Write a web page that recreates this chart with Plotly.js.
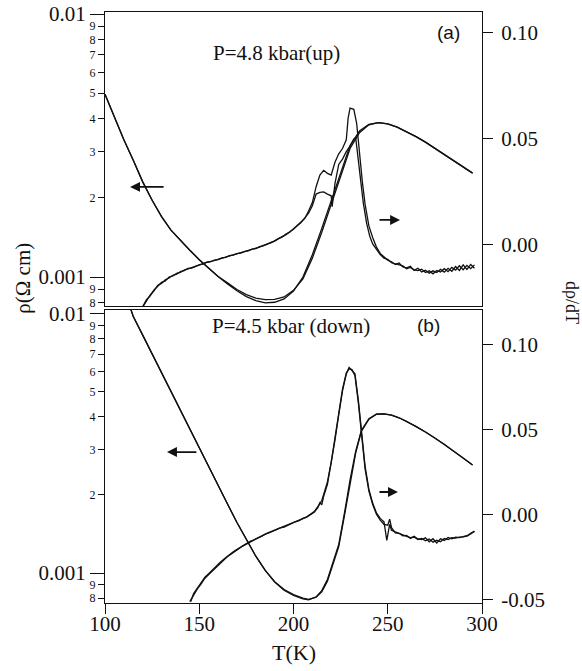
<!DOCTYPE html>
<html>
<head>
<meta charset="utf-8">
<script src="https://cdn.plot.ly/plotly-3.0.1.min.js"></script>
<style>html,body{margin:0;padding:0;background:#fff;}#chart{width:582px;height:671px;}</style>
</head>
<body>
<div id="chart"></div>
<script>
// ---------- Panel (a): P = 4.8 kbar (up) ----------
var tRhoA = [100,105,110,115,120,125,130,135,140,145,150,155,160,165,170,175,180,185,190,195,200,205,210,215,220,225,230,235,240,245,250,255,260,265,270,275,280,285,290,295];
var rhoA1 = [0.004955,0.004027,0.003327,0.002780,0.002301,0.001959,0.001698,0.001507,0.001374,0.001265,0.001164,0.001079,0.001005,0.000942,0.000887,0.000843,0.000813,0.000798,0.000802,0.000826,0.000885,0.001000,0.001216,0.001531,0.001950,0.002512,0.003162,0.003589,0.003802,0.003864,0.003819,0.003715,0.003573,0.003420,0.003258,0.003090,0.002917,0.002767,0.002618,0.002483];
var rhoA2 = [0.004955,0.004027,0.003327,0.002780,0.002301,0.001959,0.001698,0.001507,0.001374,0.001265,0.001164,0.001079,0.001005,0.000950,0.000897,0.000858,0.000832,0.000820,0.000822,0.000840,0.000890,0.000985,0.001180,0.001480,0.001880,0.002420,0.003080,0.003540,0.003790,0.003864,0.003819,0.003715,0.003573,0.003420,0.003258,0.003090,0.002917,0.002767,0.002618,0.002483];

var tDerA1 = [120,122,124,126,128,130,132,134,136,138,140,142,144,146,148,150,152,154,156,158,160,162,164,166,168,170,172,174,176,178,180,182,184,186,188,190,192,194,196,198,200,202,204,206,208,210,212,214,216,218,220,222,224,226,228,229,230,232,233.5,235,236.5,238,240,242,244,246,248,250,252,254,256,258,260,262,264,266,268,270,272,274,276,278,280,282,284,286,288,290,292,294,296];
var derA1 = [-0.0291,-0.0258,-0.0240,-0.0212,-0.0195,-0.0176,-0.0170,-0.0151,-0.0146,-0.0134,-0.0129,-0.0118,-0.0113,-0.0107,-0.0099,-0.0096,-0.0087,-0.0082,-0.0079,-0.0071,-0.0069,-0.0061,-0.0058,-0.0050,-0.0048,-0.0041,-0.0039,-0.0031,-0.0028,-0.0020,-0.0017,-0.0008,-0.0004,0.0005,0.0010,0.0020,0.0026,0.0040,0.0049,0.0062,0.0074,0.0092,0.0108,0.0125,0.0160,0.0200,0.0275,0.0330,0.0352,0.0338,0.0330,0.0390,0.0430,0.0455,0.0496,0.0600,0.0646,0.0640,0.0574,0.0420,0.0300,0.0190,0.0090,0.0035,-0.0010,-0.0040,-0.0055,-0.0072,-0.0080,-0.0092,-0.0085,-0.0104,-0.0108,-0.0100,-0.0120,-0.0110,-0.0127,-0.0119,-0.0133,-0.0122,-0.0130,-0.0115,-0.0128,-0.0110,-0.0124,-0.0102,-0.0120,-0.0094,-0.0115,-0.0092,-0.0110];

var tDerA2 = [120,122,124,126,128,130,132,134,136,138,140,142,144,146,148,150,152,154,156,158,160,162,164,166,168,170,172,174,176,178,180,182,184,186,188,190,192,194,196,198,200,202,204,206,208,210,212,214,216,218,220,220.5,222,224,226,228,230,232,233,234,235.5,237,238.8,240.5,242,244,246,248,250,252,254,256,258,260,262,264,266,268,270,272,274,276,278,280,282,284,286,288,290,292,294,296];
var derA2 = [-0.0293,-0.0262,-0.0236,-0.0216,-0.0190,-0.0181,-0.0164,-0.0156,-0.0143,-0.0138,-0.0126,-0.0121,-0.0111,-0.0109,-0.0100,-0.0094,-0.0089,-0.0081,-0.0078,-0.0073,-0.0067,-0.0063,-0.0056,-0.0052,-0.0046,-0.0043,-0.0037,-0.0033,-0.0026,-0.0022,-0.0015,-0.0010,-0.0002,0.0003,0.0012,0.0018,0.0030,0.0038,0.0051,0.0060,0.0077,0.0090,0.0106,0.0128,0.0150,0.0185,0.0240,0.0248,0.0250,0.0240,0.0232,0.0181,0.0290,0.0380,0.0405,0.0440,0.0466,0.0500,0.0505,0.0430,0.0300,0.0200,0.0102,0.0040,0.0005,-0.0020,-0.0045,-0.0062,-0.0068,-0.0084,-0.0089,-0.0097,-0.0099,-0.0112,-0.0106,-0.0118,-0.0121,-0.0114,-0.0130,-0.0122,-0.0136,-0.0120,-0.0128,-0.0112,-0.0126,-0.0106,-0.0119,-0.0098,-0.0117,-0.0096,-0.0112,-0.0094];

// ---------- Panel (b): P = 4.5 kbar (down) ----------
var tRhoB = [112,115,120,125,130,135,140,145,150,155,160,165,170,175,180,185,190,195,200,205,208,212,215,218,221,224,227,230,233,236,240,244,248,252,256,260,265,270,275,280,285,290,295];
var rhoB1 = [0.011298,0.009772,0.008279,0.006998,0.005929,0.005012,0.004246,0.003589,0.003041,0.002570,0.002178,0.001845,0.001567,0.001343,0.001161,0.001023,0.000923,0.000859,0.000820,0.000794,0.000787,0.000809,0.000855,0.000944,0.001096,0.001288,0.001698,0.002286,0.002951,0.003548,0.003936,0.004102,0.004111,0.004064,0.003972,0.003846,0.003681,0.003499,0.003319,0.003141,0.002951,0.002780,0.002612];
var rhoB2 = [0.011298,0.009772,0.008279,0.006998,0.005929,0.005012,0.004246,0.003589,0.003041,0.002570,0.002178,0.001845,0.001567,0.001343,0.001161,0.001023,0.000926,0.000863,0.000826,0.000800,0.000791,0.000806,0.000846,0.000930,0.001075,0.001265,0.001660,0.002240,0.002910,0.003520,0.003925,0.004098,0.004111,0.004064,0.003972,0.003846,0.003681,0.003499,0.003319,0.003141,0.002951,0.002780,0.002612];

var tDerB1 = [145,147,149,151,153,155,157,159,161,163,165,167,169,171,173,175,177,179,181,183,185,187,189,191,193,195,197,199,201,203,205,207,209,211,213,214,215,216,218,220,222,224,226,228,229.5,231,232.6,234.4,236,238,240,242,244,246,248,249.5,251,252,254,256,258,260,262,264,266,268,270,272,274,276,278,280,282,284,286,288,290,292,294,296];
var derB1 = [-0.0510,-0.0470,-0.0435,-0.0405,-0.0372,-0.0350,-0.0328,-0.0306,-0.0285,-0.0262,-0.0244,-0.0230,-0.0212,-0.0199,-0.0183,-0.0170,-0.0158,-0.0149,-0.0136,-0.0126,-0.0113,-0.0106,-0.0095,-0.0088,-0.0076,-0.0071,-0.0060,-0.0052,-0.0040,-0.0033,-0.0020,-0.0013,0.0000,0.0016,0.0045,0.0072,0.0060,0.0110,0.0180,0.0300,0.0440,0.0590,0.0730,0.0830,0.0868,0.0850,0.0830,0.0676,0.0490,0.0284,0.0150,0.0070,0.0012,-0.0020,-0.0040,-0.0150,-0.0055,-0.0090,-0.0100,-0.0110,-0.0118,-0.0126,-0.0133,-0.0130,-0.0144,-0.0138,-0.0152,-0.0141,-0.0160,-0.0148,-0.0158,-0.0138,-0.0145,-0.0134,-0.0136,-0.0130,-0.0129,-0.0125,-0.0112,-0.0097];

var tDerB2 = [145.5,147,149,151,153,155,157,159,161,163,165,167,169,171,173,175,177,179,181,183,185,187,189,191,193,195,197,199,201,203,205,207,209,211,213,214,215,216,218,220,222,224,226,228,229.5,231,232.6,234.4,236,238,240,242,244,246,248,250,251,252,254,256,258,260,262,264,266,268,270,272,274,276,278,280,282,284,286,288,290,292,294,296];
var derB2 = [-0.0510,-0.0462,-0.0430,-0.0398,-0.0366,-0.0346,-0.0322,-0.0302,-0.0280,-0.0260,-0.0241,-0.0226,-0.0210,-0.0196,-0.0181,-0.0168,-0.0155,-0.0146,-0.0134,-0.0123,-0.0112,-0.0103,-0.0094,-0.0085,-0.0077,-0.0068,-0.0061,-0.0050,-0.0042,-0.0031,-0.0022,-0.0011,0.0003,0.0020,0.0050,0.0065,0.0085,0.0120,0.0195,0.0310,0.0455,0.0600,0.0740,0.0835,0.0860,0.0855,0.0820,0.0660,0.0470,0.0270,0.0140,0.0062,0.0005,-0.0030,-0.0055,-0.0060,-0.0025,-0.0075,-0.0105,-0.0108,-0.0123,-0.0120,-0.0138,-0.0126,-0.0141,-0.0145,-0.0135,-0.0158,-0.0140,-0.0165,-0.0140,-0.0150,-0.0132,-0.0140,-0.0130,-0.0133,-0.0128,-0.0122,-0.0108,-0.0095];

// ---------- Ticks ----------
var majorVals = [0.001, 0.01];
var majorText = ['0.001', '0.01'];
var minorVals = [0.0008,0.0009,0.002,0.003,0.004,0.005,0.006,0.007,0.008,0.009];
var minorText = ['8','9','2','3','4','5','6','7','8','9'];
var rightValsA = [0, 0.05, 0.10];
var rightTextA = ['0.00', '0.05', '0.10'];
var rightValsB = [-0.05, 0, 0.05, 0.10];
var rightTextB = ['-0.05', '0.00', '0.05', '0.10'];
var xVals = [100,150,200,250,300];

var SERIF = 'Liberation Serif, Times New Roman, serif';
var SANS = 'Liberation Sans, Arial, sans-serif';
var ln = {color:'#111', width:1.3};

function tr(x, y, xa, ya) {
  return {x:x, y:y, xaxis:xa, yaxis:ya, type:'scatter', mode:'lines', line:ln, hoverinfo:'skip'};
}
function holder(xa, ya) {
  return {x:[], y:[], xaxis:xa, yaxis:ya, type:'scatter', mode:'lines', hoverinfo:'skip'};
}

var data = [
  tr(tRhoA, rhoA1, 'x2', 'y4'),
  tr(tRhoA, rhoA2, 'x2', 'y4'),
  tr(tDerA1, derA1, 'x2', 'y6'),
  tr(tDerA2, derA2, 'x2', 'y6'),
  tr(tRhoB, rhoB1, 'x', 'y'),
  tr(tRhoB, rhoB2, 'x', 'y'),
  tr(tDerB1, derB1, 'x', 'y3'),
  tr(tDerB2, derB2, 'x', 'y3'),
  holder('x', 'y2'),
  holder('x2', 'y5')
];

var axLine = {showline:true, linecolor:'#111', linewidth:1, showgrid:false, zeroline:false, ticks:'outside', tickcolor:'#111'};
function merge(a, b) { var o = {}; for (var k in a) o[k] = a[k]; for (var k2 in b) o[k2] = b[k2]; return o; }

var domB = [0, 0.4958];
var domA = [0.5025, 1];
var rangeB = [Math.log10(0.000766), -1.985];
var rangeA = [Math.log10(0.000776), -1.9924];
var bigTick = {size:21, family:SERIF, color:'#111'};
var smallTick = {size:12, family:SERIF, color:'#111'};

function note(text, x, y, size, fam, angle) {
  return {text:text, xref:'paper', yref:'paper', x:x, y:y, xanchor:'center', yanchor:'middle', textangle:angle || 0, showarrow:false, font:{size:size, family:fam, color:'#111'}};
}
function arrow(xr, yr, xHead, xTail, yv) {
  return {text:'', xref:xr, yref:yr, x:xHead, y:yv, axref:xr, ayref:yr, ax:xTail, ay:yv, showarrow:true, arrowhead:2, arrowsize:1.1, arrowwidth:1.8, arrowcolor:'#111', standoff:0};
}

var layout = {
  width:582, height:671,
  margin:{l:105, r:100, t:12, b:68},
  paper_bgcolor:'#fff', plot_bgcolor:'#fff',
  showlegend:false,
  font:{family:SERIF, color:'#111', size:19},
  xaxis: merge(axLine, {domain:[0,1], range:[100,300], anchor:'y', mirror:true, tickvals:xVals, ticklen:10, ticklabelstandoff:-8, tickfont:bigTick}),
  xaxis2: merge(axLine, {domain:[0,1], range:[100,300], anchor:'y4', mirror:true, ticks:'', showticklabels:false, matches:'x'}),
  yaxis: merge(axLine, {domain:domB, type:'log', range:rangeB, anchor:'x', side:'left', tickvals:majorVals, ticktext:majorText, ticklen:14, tickfont:bigTick}),
  yaxis2: merge(axLine, {type:'log', range:rangeB, anchor:'x', overlaying:'y', side:'left', showline:false, tickvals:minorVals, ticktext:minorText, ticklen:6, tickfont:smallTick}),
  yaxis3: merge(axLine, {type:'linear', range:[-0.0518, 0.1206], anchor:'x', overlaying:'y', side:'right', tickvals:rightValsB, ticktext:rightTextB, ticklen:10, ticklabelstandoff:4, tickfont:bigTick}),
  yaxis4: merge(axLine, {domain:domA, type:'log', range:rangeA, anchor:'x2', side:'left', tickvals:majorVals, ticktext:majorText, ticklen:14, tickfont:bigTick}),
  yaxis5: merge(axLine, {type:'log', range:rangeA, anchor:'x2', overlaying:'y4', side:'left', showline:false, tickvals:minorVals, ticktext:minorText, ticklen:6, tickfont:smallTick}),
  yaxis6: merge(axLine, {type:'linear', range:[-0.0288, 0.1099], anchor:'x2', overlaying:'y4', side:'right', tickvals:rightValsA, ticktext:rightTextA, ticklen:10, ticklabelstandoff:4, tickfont:bigTick}),
  annotations: [
    note('P=4.8 kbar(up)', 0.456, 0.9307, 21, SERIF),
    note('P=4.5 kbar (down)', 0.493, 0.4687, 21, SERIF),
    note('(a)', 0.910, 0.9645, 19, SANS),
    note('(b)', 0.857, 0.4687, 19, SANS),
    note('ρ(Ω cm)', -0.218, 0.550, 21, SERIF, -90),
    note('dρ/dT', 1.2387, 0.5076, 18, SERIF, 90),
    note('T(K)', 0.5, -0.083, 22, SERIF),
    arrow('x2', 'y6', 113.3, 131.9, 0.0274),
    arrow('x2', 'y6', 256.5, 244.8, 0.0118),
    arrow('x', 'y3', 132.9, 149.3, 0.037),
    arrow('x', 'y3', 255.4, 244.8, 0.0135)
  ]
};

Plotly.newPlot('chart', data, layout, {staticPlot:true, displayModeBar:false});
</script>
</body>
</html>
